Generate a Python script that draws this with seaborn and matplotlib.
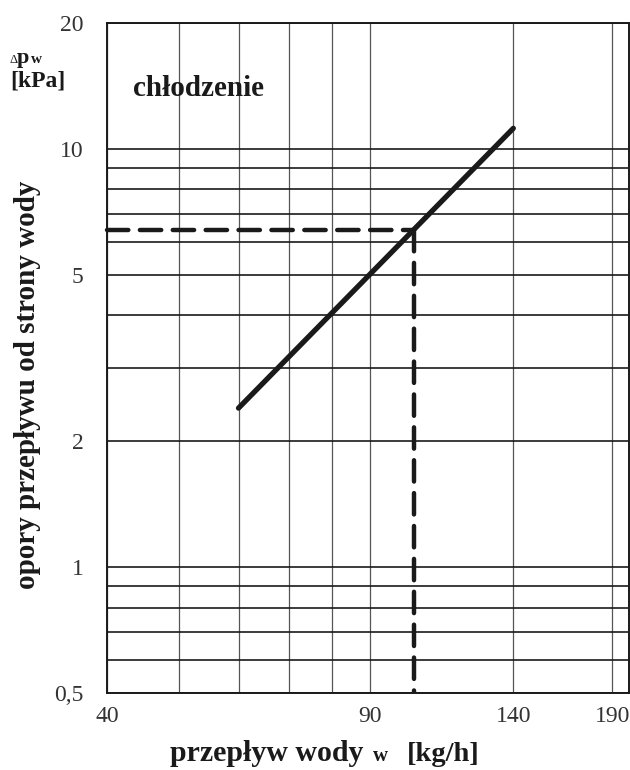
import numpy as np
import pandas as pd
import matplotlib
matplotlib.use("Agg")
import matplotlib.pyplot as plt
import matplotlib.ticker as mticker
import seaborn as sns

# dane
przeplyw = [60, 140]          # kg/h
opory = [2.4, 11.2]           # kPa
punkt_w = 103                 # odczyt przykladowy
punkt_dp = 6.4

x_ticks = [40, 90, 140, 190]
x_minor = [50, 60, 70, 80]
y_ticks = [0.5, 1, 2, 5, 10, 20]
y_labels = ["0,5", "1", "2", "5", "10", "20"]
y_minor = [0.6, 0.7, 0.8, 0.9, 3, 4, 6, 7, 8, 9]

sns.set_style("white")
plt.rcParams["font.family"] = ["Liberation Serif", "DejaVu Serif"]

df = pd.DataFrame({"w": przeplyw, "dp": opory})

fig = plt.figure(figsize=(6.3, 7.7), dpi=100)
ax = fig.add_axes([107 / 630, 77 / 770, 522 / 630, 670 / 770])

ax.set_xscale("log")
ax.set_yscale("log")
ax.set_xlim(40, 200)
ax.set_ylim(0.5, 20)

# siatka
ax.xaxis.set_major_locator(mticker.FixedLocator(x_ticks))
ax.xaxis.set_minor_locator(mticker.FixedLocator(x_minor))
ax.xaxis.set_major_formatter(mticker.FixedFormatter([str(v) for v in x_ticks]))
ax.xaxis.set_minor_formatter(mticker.NullFormatter())
ax.yaxis.set_major_locator(mticker.FixedLocator(y_ticks))
ax.yaxis.set_minor_locator(mticker.FixedLocator(y_minor))
ax.yaxis.set_major_formatter(mticker.FixedFormatter(y_labels))
ax.yaxis.set_minor_formatter(mticker.NullFormatter())

ax.grid(True, axis="x", which="both", color="#555555", lw=0.9)
ax.grid(True, axis="y", which="both", color="#1a1a1a", lw=1.2)
ax.tick_params(which="both", length=0)
ax.tick_params(axis="y", pad=17, labelsize=17, labelcolor="#333333")
ax.tick_params(axis="x", pad=9, labelsize=17, labelcolor="#333333")
for s in ax.spines.values():
    s.set_color("#1a1a1a")
    s.set_linewidth(1.4)

# linia charakterystyki
sns.lineplot(data=df, x="w", y="dp", ax=ax, color="#1a1a1a", lw=3.8,
             solid_capstyle="round", zorder=5)

# odczyt przykladowy
ax.plot([40, punkt_w], [punkt_dp, punkt_dp], color="#1a1a1a", lw=3.2,
        dashes=(4.8, 2.6), dash_capstyle="round", zorder=6, clip_on=False)
ax.plot([punkt_w, punkt_w], [punkt_dp, 0.5], color="#1a1a1a", lw=3.2,
        dashes=(4.8, 2.6), dash_capstyle="round", zorder=6)

ax.set_xlabel("")
ax.set_ylabel("")

# opisy
fig.text(133 / 630, 1 - 88 / 770, "chłodzenie", fontsize=21, fontweight="bold",
         color="#1a1a1a", va="center", ha="left")
fig.text(10 / 630, 1 - 63 / 770, "Δ", fontsize=9, color="#1a1a1a", va="baseline")
fig.text(17 / 630, 1 - 63 / 770, "p", fontsize=16, fontweight="bold",
         color="#1a1a1a", va="baseline")
fig.text(31 / 630, 1 - 63 / 770, "w", fontsize=11, fontweight="bold",
         color="#1a1a1a", va="baseline")
fig.text(10 / 630, 1 - 87 / 770, "[kPa]", fontsize=17, fontweight="bold",
         color="#1a1a1a", va="baseline")
fig.text(28 / 630, 1 - 385 / 770, "opory przepływu od strony wody", fontsize=21,
         fontweight="bold", rotation=90, color="#1a1a1a", va="center", ha="center")
fig.text(170 / 630, 1 - 761 / 770, "przepływ wody", fontsize=21.5,
         fontweight="bold", color="#1a1a1a", va="baseline", ha="left")
fig.text(373 / 630, 1 - 761 / 770, "w", fontsize=15,
         fontweight="bold", color="#1a1a1a", va="baseline", ha="left")
fig.text(407 / 630, 1 - 761 / 770, "[kg/h]", fontsize=20.5,
         fontweight="bold", color="#1a1a1a", va="baseline", ha="left")

fig.savefig("out.png", dpi=100)
